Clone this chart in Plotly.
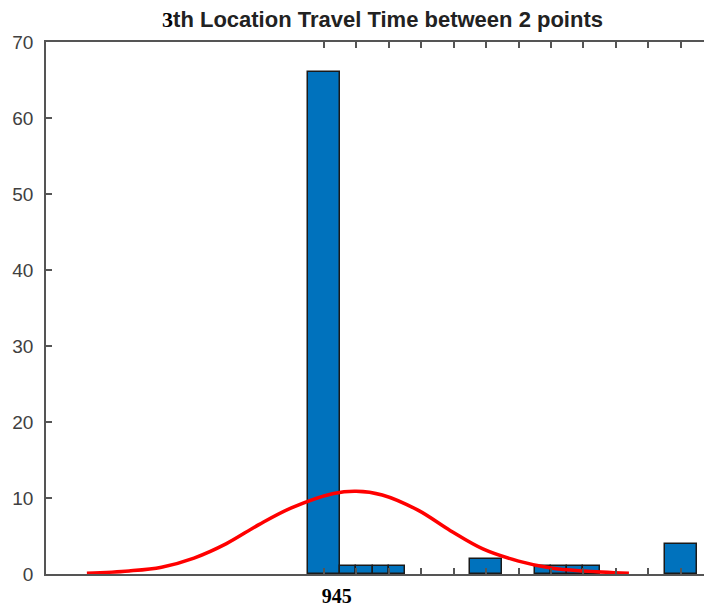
import plotly.graph_objects as go

# Histogram bins (left/right edges) and counts
bin_left = [942.5, 947.5, 950.0, 952.5, 955.0, 967.5, 977.5, 980.0, 982.5, 985.0, 997.5]
bin_right = [947.5, 950.0, 952.5, 955.0, 957.5, 972.5, 980.0, 982.5, 985.0, 987.5, 1002.5]
counts = [66, 1, 1, 1, 1, 2, 1, 1, 1, 1, 4]

# Fitted curve points
curve_x = [908.5, 915, 920, 925, 930, 935, 940, 946.5, 950, 954, 959.5, 964.5, 969.5, 975, 980, 985, 992]
curve_y = [0.1, 0.4, 0.9, 2.1, 4.0, 6.5, 8.7, 10.6, 10.9, 10.4, 8.4, 5.7, 3.3, 1.7, 0.8, 0.4, 0.1]

x_tickvals = [945, 950, 955, 960, 965, 970, 975, 980, 985, 990, 995, 1000]
x_ticktext = ["<b>945</b>"] + [""] * 11
y_tickvals = [0, 10, 20, 30, 40, 50, 60, 70]

centers = [(a + b) / 2 for a, b in zip(bin_left, bin_right)]
widths = [b - a for a, b in zip(bin_left, bin_right)]

fig = go.Figure()
fig.add_trace(go.Bar(
    x=centers, y=counts, width=widths,
    marker=dict(color="#0072BD", line=dict(color="#1a1a1a", width=1.5)),
    showlegend=False,
))
fig.add_trace(go.Scatter(
    x=curve_x, y=curve_y, mode="lines",
    line=dict(color="#ff0000", width=3.5, shape="spline"),
    showlegend=False,
))

# the page body has an 8px default margin, so the figure is sized to fit the window
fig.update_layout(
    width=704, height=599,
    margin=dict(l=38, r=0, t=34, b=29),
    paper_bgcolor="white", plot_bgcolor="white",
    title=dict(
        text="<b><span style=\"font-family:Liberation Serif;color:#000\">3</span>th Location Travel Time between 2 points</b>",
        x=0.532, xanchor="center", y=1.0, yanchor="top",
        font=dict(family="Liberation Sans, Arial", size=22, color="#222222"),
        pad=dict(t=4),
    ),
    bargap=0,
)
fig.update_xaxes(
    range=[902.2, 1004.8],
    showline=True, linecolor="#555555", linewidth=1.5, mirror="ticks",
    ticks="inside", ticklen=6, tickcolor="#555555", tickwidth=1.5,
    tickvals=x_tickvals, ticktext=x_ticktext,
    tickfont=dict(family="Liberation Serif, Times New Roman", size=20, color="#000000"),
    ticklabelshift=13, ticklabelstandoff=3,
    showgrid=False, zeroline=False,
)
fig.update_yaxes(
    range=[0, 70],
    showline=True, linecolor="#555555", linewidth=1.5,
    ticks="inside", ticklen=6, tickcolor="#555555", tickwidth=1.5,
    tickvals=y_tickvals,
    tickfont=dict(family="Liberation Sans, Arial", size=19, color="#404040"),
    ticklabelstandoff=7,
    showgrid=False, zeroline=False,
)

fig.write_html("out.html")
